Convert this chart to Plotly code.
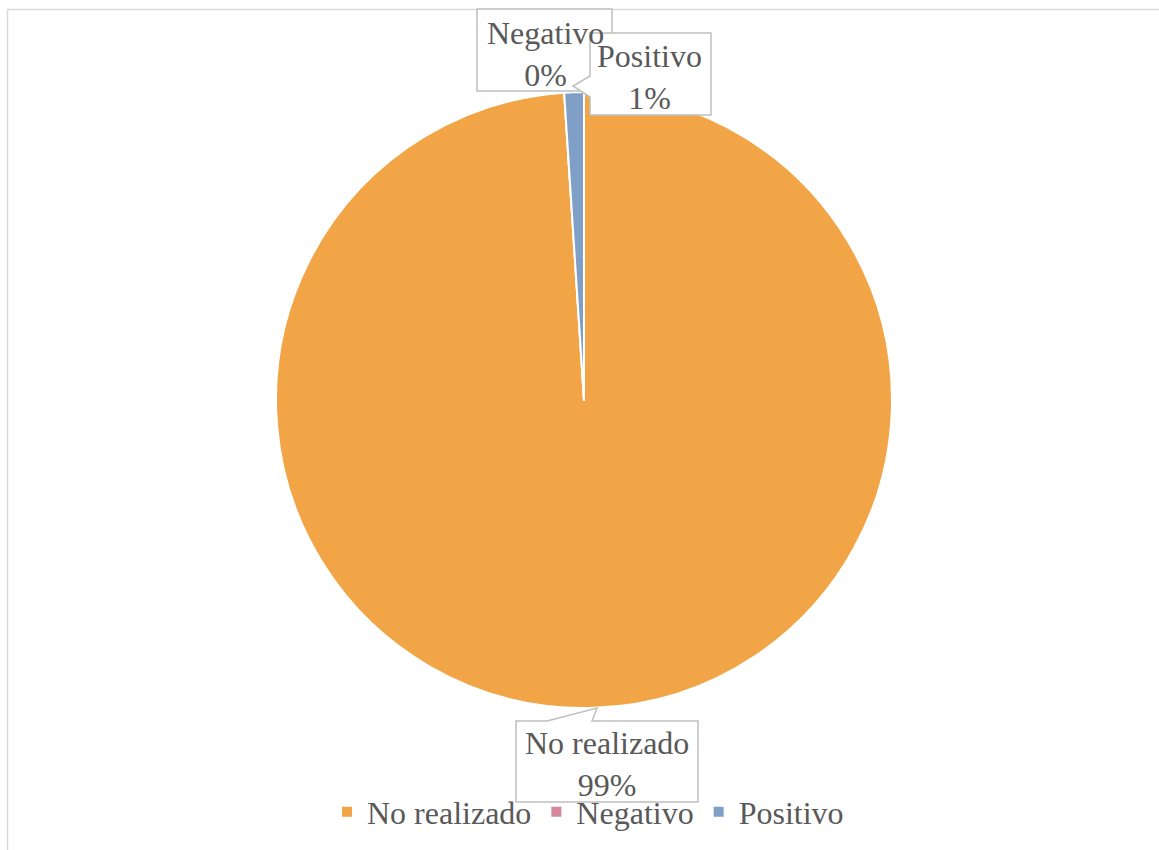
import plotly.graph_objects as go

# Result categories and their counts
categories = ["No realizado", "Negativo", "Positivo"]
counts = [386, 0, 4]
colors = ["#F2A546", "#D4879C", "#7F9FC7"]

W, H = 1159, 850
FONT = "Liberation Serif, Times New Roman, serif"
TEXT_COLOR = "#595959"
BOX_LINE = "#BFBFBF"

total = sum(counts)
pct_labels = [f"{round(v / total * 100)}%" for v in counts]


def px(x):
    return x / W


def py(y):
    return 1 - y / H


def path(points):
    pts = [f"{px(x):.5f},{py(y):.5f}" for x, y in points]
    return "M" + " L".join(pts) + " Z"


fig = go.Figure()

fig.add_trace(go.Pie(
    labels=categories,
    values=counts,
    marker=dict(colors=colors, line=dict(color="white", width=2)),
    sort=False,
    direction="clockwise",
    rotation=0,
    textinfo="none",
    hoverinfo="label+percent",
    domain=dict(x=[px(276), px(892)], y=[py(708), py(92)]),
    showlegend=True,
))

# Callout boxes for the data labels
callouts = {
    "Negativo": [(477, 9), (612, 9), (612, 91), (477, 91)],
    "Positivo": [(590, 33), (711, 33), (711, 115), (590, 115), (590, 97),
                 (573, 86), (590, 76)],
    "No realizado": [(516, 721), (547, 721), (597, 708), (592, 721),
                     (698, 721), (698, 802), (516, 802)],
}
label_centers = {
    "Negativo": (545, 54),
    "Positivo": (650, 77),
    "No realizado": (607, 764),
}

shapes = []
for name in ["Negativo", "Positivo", "No realizado"]:
    shapes.append(dict(
        type="path", xref="paper", yref="paper",
        path=path(callouts[name]),
        fillcolor="white", line=dict(color=BOX_LINE, width=1.5),
        layer="above",
    ))

# Chart area frame
shapes.append(dict(
    type="rect", xref="paper", yref="paper",
    x0=px(7.5), x1=1.02, y0=-0.02, y1=py(9.5),
    line=dict(color="#D9D9D9", width=1.5), fillcolor="rgba(0,0,0,0)",
    layer="below",
))

annotations = []
for name, pct in zip(categories, pct_labels):
    cx, cy = label_centers[name]
    annotations.append(dict(
        x=px(cx), y=py(cy), xref="paper", yref="paper",
        text=f"{name}<br>{pct}", showarrow=False, align="center",
        xanchor="center", yanchor="middle",
        font=dict(family=FONT, size=32, color=TEXT_COLOR),
    ))

fig.update_layout(
    width=W, height=H,
    margin=dict(l=0, r=0, t=0, b=0),
    paper_bgcolor="white",
    plot_bgcolor="white",
    shapes=shapes,
    annotations=annotations,
    legend=dict(
        orientation="h",
        x=px(588), xanchor="center",
        y=py(812), yanchor="middle",
        font=dict(family=FONT, size=32, color=TEXT_COLOR),
        bgcolor="rgba(0,0,0,0)",
        itemclick=False, itemdoubleclick=False,
        tracegroupgap=0,
    ),
)

fig.write_html("out.html")
